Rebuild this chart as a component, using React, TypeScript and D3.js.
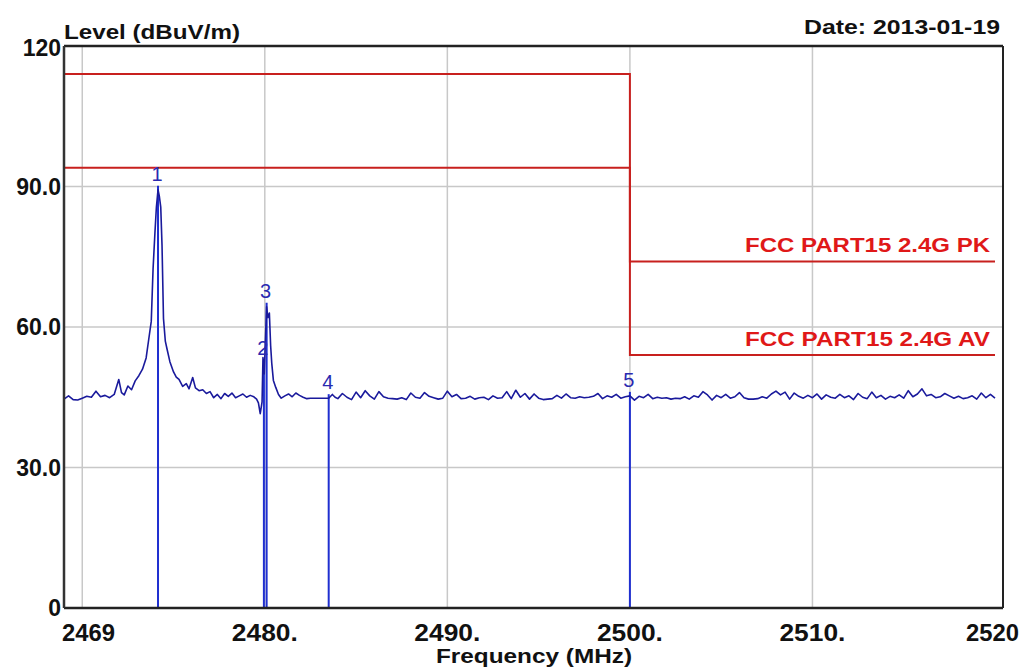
import React from "react";
import * as d3 from "d3";

// ---------- data ----------
const xTicks = [2469, 2480, 2490, 2500, 2510, 2520];
const xTickLabels = ["2469", "2480.", "2490.", "2500.", "2510.", "2520"];
const xGrid = [2470, 2480, 2490, 2500, 2510];
const yTicks = [0, 30, 60, 90, 120];
const yTickLabels = ["0", "30.0", "60.0", "90.0", "120"];
const yGrid = [30, 60, 90];

const limitPK: [number, number][] = [[2469, 114], [2500, 114], [2500, 74], [2520, 74]];
const limitAV: [number, number][] = [[2469, 94], [2500, 94], [2500, 54], [2520, 54]];

// markers: [label, MHz, dBuV/m]
const markers: [string, number, number][] = [
  ["1", 2474.15, 89.3],
  ["2", 2479.95, 52.0],
  ["3", 2480.1, 64.3],
  ["4", 2483.5, 44.8],
  ["5", 2500.0, 45.3],
];

// measured trace [MHz, dBuV/m]
const trace: [number, number][] = [
  [2469.0, 44.6], [2469.25, 45.3], [2469.5, 44.5], [2469.75, 44.4], [2470.0, 44.8], [2470.25, 45.2],
  [2470.5, 45.0], [2470.75, 46.3], [2471.0, 45.1], [2471.25, 45.4], [2471.5, 44.9], [2471.75, 45.6],
  [2472.0, 48.8], [2472.15, 46.0], [2472.3, 45.5], [2472.5, 47.4], [2472.7, 46.6], [2472.9, 48.5],
  [2473.1, 49.6], [2473.3, 51.0], [2473.5, 53.4], [2473.65, 57.6], [2473.78, 61.2], [2473.88, 72.5],
  [2473.98, 80.0], [2474.06, 85.5], [2474.15, 89.3], [2474.22, 88.0], [2474.3, 85.6], [2474.37, 77.4],
  [2474.45, 61.8], [2474.55, 57.0], [2474.65, 55.2], [2474.8, 52.6], [2475.0, 50.4], [2475.15, 49.3],
  [2475.3, 48.8], [2475.5, 47.3], [2475.7, 47.9], [2475.85, 46.8], [2476.05, 49.2], [2476.2, 47.0],
  [2476.4, 46.4], [2476.6, 46.6], [2476.8, 45.8], [2477.0, 46.2], [2477.2, 44.9], [2477.4, 45.6],
  [2477.6, 44.7], [2477.8, 45.8], [2478.0, 45.2], [2478.2, 45.9], [2478.4, 44.9], [2478.6, 45.3],
  [2478.8, 45.7], [2479.0, 45.0], [2479.2, 45.4], [2479.4, 45.1], [2479.55, 44.6], [2479.65, 43.8],
  [2479.75, 41.5], [2479.85, 44.0], [2479.9, 53.5], [2479.97, 50.0], [2480.02, 55.7], [2480.1, 64.3],
  [2480.17, 62.0], [2480.25, 63.0], [2480.32, 56.0], [2480.38, 52.3], [2480.47, 48.6], [2480.6, 47.1],
  [2480.75, 45.6], [2480.9, 44.8], [2481.1, 45.3], [2481.3, 45.7], [2481.5, 45.1], [2481.7, 45.9],
  [2481.9, 45.4], [2482.1, 45.0], [2482.3, 44.7], [2482.5, 44.8], [2483.5, 44.8], [2483.7, 45.6],
  [2483.85, 45.0], [2484.0, 44.7], [2484.25, 45.8], [2484.5, 45.0], [2484.75, 44.5], [2485.0, 46.1],
  [2485.25, 44.9], [2485.5, 46.4], [2485.75, 45.3], [2486.0, 44.6], [2486.25, 46.2], [2486.5, 45.1],
  [2486.75, 44.8], [2487.0, 44.7], [2487.25, 44.6], [2487.5, 44.9], [2487.75, 44.5], [2488.0, 45.9],
  [2488.25, 45.0], [2488.5, 44.8], [2488.75, 46.0], [2489.0, 45.2], [2489.25, 44.9], [2489.5, 44.6],
  [2489.75, 44.8], [2490.0, 46.3], [2490.25, 45.1], [2490.5, 45.6], [2490.75, 44.7], [2491.0, 44.8],
  [2491.25, 45.2], [2491.5, 44.6], [2491.75, 44.9], [2492.0, 45.0], [2492.25, 44.5], [2492.5, 45.3],
  [2492.75, 44.8], [2493.0, 44.9], [2493.25, 46.2], [2493.5, 44.7], [2493.75, 46.5], [2494.0, 45.0],
  [2494.25, 45.8], [2494.5, 44.6], [2494.75, 45.7], [2495.0, 44.8], [2495.25, 44.5], [2495.5, 44.6],
  [2495.75, 44.7], [2496.0, 45.4], [2496.25, 44.8], [2496.5, 45.7], [2496.75, 44.9], [2497.0, 44.8],
  [2497.25, 45.1], [2497.5, 44.9], [2497.75, 45.0], [2498.0, 45.2], [2498.25, 45.8], [2498.5, 44.7],
  [2498.75, 45.3], [2499.0, 45.0], [2499.25, 45.6], [2499.5, 44.8], [2499.75, 45.1], [2500.0, 45.3],
  [2500.25, 44.4], [2500.5, 45.2], [2500.75, 44.9], [2501.0, 45.6], [2501.25, 44.7], [2501.5, 45.0],
  [2501.75, 44.8], [2502.0, 44.9], [2502.25, 44.6], [2502.5, 44.8], [2502.75, 44.7], [2503.0, 45.1],
  [2503.25, 44.6], [2503.5, 45.3], [2503.75, 45.0], [2504.0, 46.2], [2504.25, 45.5], [2504.5, 44.4],
  [2504.75, 45.4], [2505.0, 44.9], [2505.25, 45.6], [2505.5, 44.8], [2505.75, 45.1], [2506.0, 46.0],
  [2506.25, 44.9], [2506.5, 44.6], [2506.75, 44.6], [2507.0, 44.7], [2507.25, 45.1], [2507.5, 44.8],
  [2507.75, 45.7], [2508.0, 46.3], [2508.25, 45.5], [2508.5, 46.1], [2508.75, 44.6], [2509.0, 45.9],
  [2509.25, 45.2], [2509.5, 44.8], [2509.75, 45.4], [2510.0, 44.9], [2510.25, 45.7], [2510.5, 44.6],
  [2510.75, 45.5], [2511.0, 45.0], [2511.25, 44.8], [2511.5, 45.6], [2511.75, 44.9], [2512.0, 45.3],
  [2512.25, 44.5], [2512.5, 45.8], [2512.75, 45.0], [2513.0, 44.7], [2513.25, 46.1], [2513.5, 44.9],
  [2513.75, 45.4], [2514.0, 44.6], [2514.25, 45.2], [2514.5, 44.9], [2514.75, 45.5], [2515.0, 44.8],
  [2515.25, 46.4], [2515.5, 45.1], [2515.75, 45.7], [2516.0, 46.8], [2516.25, 45.3], [2516.5, 45.6],
  [2516.75, 44.9], [2517.0, 45.1], [2517.25, 45.8], [2517.5, 45.3], [2517.75, 44.8], [2518.0, 45.2],
  [2518.25, 44.7], [2518.5, 44.9], [2518.75, 45.3], [2519.0, 44.6], [2519.25, 45.9], [2519.5, 44.9],
  [2519.75, 45.6], [2520.0, 44.8],
];

// ---------- layout ----------
const W = 1020;
const H = 669;
const left = 64;
const right = 1003;
const top = 46;
const bottom = 608;

const FONT = "'Liberation Sans Narrow', 'Arial Narrow', 'Liberation Sans', Arial, sans-serif";

export default function App() {
  const x = d3.scaleLinear().domain([2469, 2520]).range([left, 995]);
  const y = d3.scaleLinear().domain([0, 120]).range([bottom, top]);
  const line = d3
    .line<[number, number]>()
    .x((d) => x(d[0]))
    .y((d) => y(d[1]));

  return (
    <div style={{ position: "absolute", left: 0, top: 0 }}>
      <svg width={W} height={H} style={{ display: "block", background: "#fff" }}>
        {/* grid */}
        {xGrid.map((g) => (
          <line key={"xg" + g} x1={x(g)} x2={x(g)} y1={top} y2={bottom} stroke="#c8c8c8" strokeWidth={1.5} />
        ))}
        {yGrid.map((g) => (
          <line key={"yg" + g} x1={left} x2={right} y1={y(g)} y2={y(g)} stroke="#c8c8c8" strokeWidth={1.5} />
        ))}

        {/* limit lines */}
        <path d={line(limitPK) || ""} fill="none" stroke="#c8201e" strokeWidth={2} />
        <path d={line(limitAV) || ""} fill="none" stroke="#c8201e" strokeWidth={2} />
        <text x={990} y={252} textAnchor="end" fontFamily={FONT} fontWeight="bold" fontSize={21} fill="#e01818" textLength={245} lengthAdjust="spacingAndGlyphs">
          FCC PART15 2.4G PK
        </text>
        <text x={990} y={346} textAnchor="end" fontFamily={FONT} fontWeight="bold" fontSize={21} fill="#e01818" textLength={245} lengthAdjust="spacingAndGlyphs">
          FCC PART15 2.4G AV
        </text>

        {/* marker lines */}
        {markers.map(([lab, f, v]) => (
          <line key={"ml" + lab} x1={x(f)} x2={x(f)} y1={y(v) - 4} y2={bottom} stroke="#1f2fd0" strokeWidth={2} />
        ))}

        {/* trace */}
        <path d={line(trace) || ""} fill="none" stroke="#1a1a9c" strokeWidth={1.6} strokeLinejoin="round" />

        {/* marker labels */}
        {markers.map(([lab, f, v]) => (
          <text key={"mt" + lab} x={x(f) - 1} y={y(v) - 9} textAnchor="middle" fontFamily="'Liberation Sans', Arial, sans-serif" fontSize={20} fill="#2a2ab0">
            {lab}
          </text>
        ))}

        {/* frame */}
        <line x1={left} x2={right} y1={top} y2={top} stroke="#222" strokeWidth={2.5} />
        <line x1={left} x2={right} y1={bottom} y2={bottom} stroke="#222" strokeWidth={2.5} />
        <line x1={left} x2={left} y1={top} y2={bottom} stroke="#333" strokeWidth={2.5} />
        <line x1={right} x2={right} y1={top} y2={bottom} stroke="#222" strokeWidth={2} />

        {/* y tick labels */}
        {yTicks.map((t, i) => (
          <text key={"yt" + t} x={61} y={y(t) + (t === 120 ? 10 : 8)} textAnchor="end" fontFamily={FONT} fontWeight="bold" fontSize={23} fill="#111">
            {yTickLabels[i]}
          </text>
        ))}

        {/* x tick labels */}
        {xTicks.map((t, i) => {
          const lab = xTickLabels[i];
          let xx: number;
          if (i === 0) {
            xx = left - 2;
          } else if (i === xTicks.length - 1) {
            xx = x(t) - 29;
          } else {
            xx = x(t) - 33;
          }
          return (
            <text key={"xt" + t} x={xx} y={641} textAnchor="start" fontFamily={FONT} fontWeight="bold" fontSize={23} fill="#111" textLength={lab.endsWith(".") ? 66 : 53} lengthAdjust="spacingAndGlyphs">
              {lab}
            </text>
          );
        })}

        {/* titles */}
        <text x={64} y={39} fontFamily={FONT} fontWeight="bold" fontSize={20} fill="#111" textLength={176} lengthAdjust="spacingAndGlyphs">
          Level (dBuV/m)
        </text>
        <text x={1000} y={34} textAnchor="end" fontFamily={FONT} fontWeight="bold" fontSize={20} fill="#111" textLength={196} lengthAdjust="spacingAndGlyphs">
          Date: 2013-01-19
        </text>
        <text x={534} y={663} textAnchor="middle" fontFamily={FONT} fontWeight="bold" fontSize={20} fill="#111" textLength={196} lengthAdjust="spacingAndGlyphs">
          Frequency (MHz)
        </text>
      </svg>
    </div>
  );
}
